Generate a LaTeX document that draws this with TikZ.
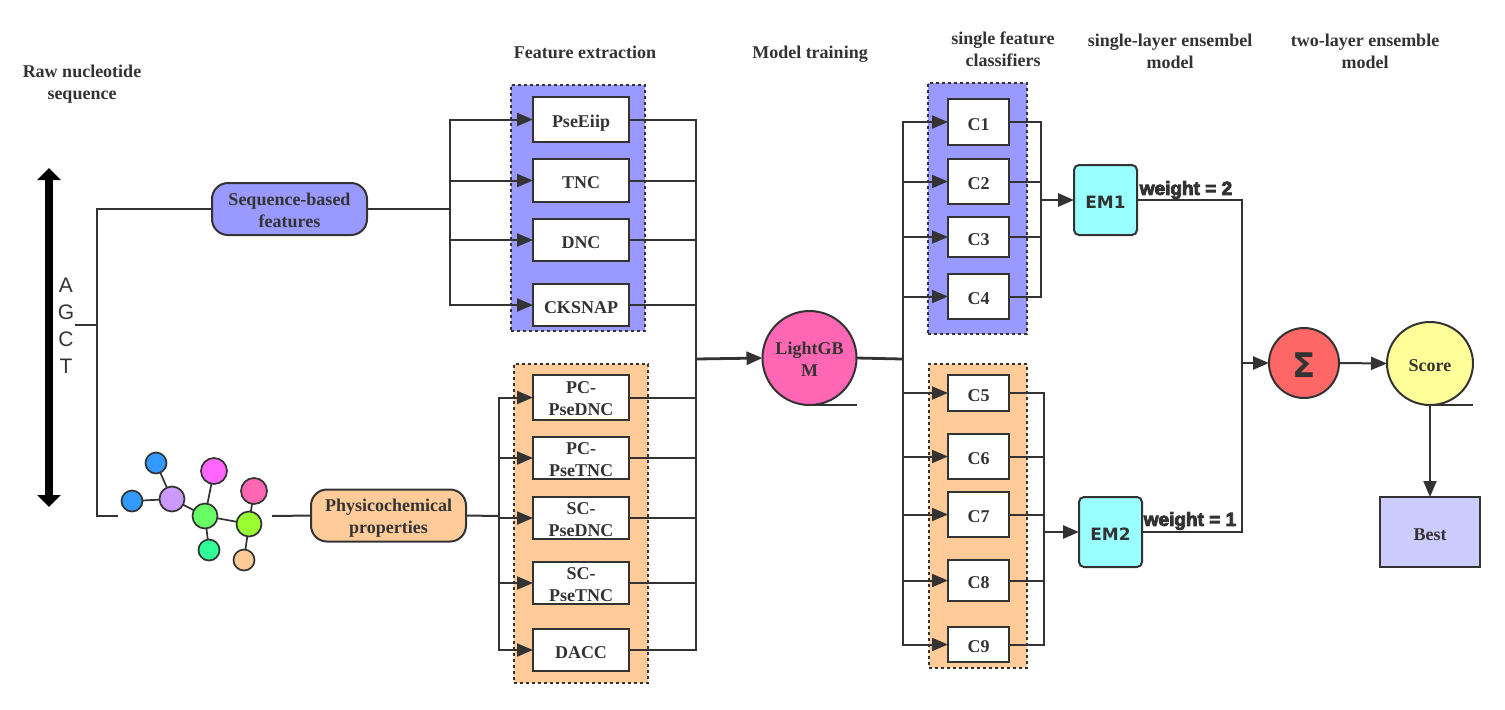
\documentclass[tikz,border=0pt]{standalone}
\usepackage{fontspec}
\setmainfont{Liberation Serif}
\newfontfamily\agctfont{Liberation Sans}
\newfontfamily\emfont{DejaVu Sans}
\newfontfamily\weightfont[BoldFont={Liberation Sans Bold},BoldFeatures={FakeBold=4.5}]{Liberation Sans}
\usetikzlibrary{positioning,arrows.meta,shapes.geometric}
\definecolor{dkline}{RGB}{51,51,51}
\definecolor{plblue}{RGB}{153,153,255}
\definecolor{plorange}{RGB}{255,204,153}
\definecolor{plcyan}{RGB}{153,255,255}
\definecolor{plred}{RGB}{255,102,102}
\definecolor{plyellow}{RGB}{255,255,153}
\definecolor{pllilac}{RGB}{204,204,255}
\definecolor{plpink}{RGB}{255,102,179}
\definecolor{atblue}{RGB}{51,153,255}
\definecolor{atviolet}{RGB}{204,153,255}
\definecolor{atmagenta}{RGB}{255,102,255}
\definecolor{atgreen}{RGB}{102,255,102}
\definecolor{atteal}{RGB}{51,255,153}
\definecolor{atlime}{RGB}{153,255,51}
\tikzset{
  base/.style={inner sep=0pt, outer sep=0pt, text=dkline, align=center,
    font=\bfseries\fontsize{9}{11}\selectfont},
  oneline/.style={text height=8.3pt, text depth=0pt},
  twoline/.style={text height=18pt, text depth=0pt},
  line/.style={draw=dkline, line width=1pt},
  flow/.style={line, -{Triangle[length=8pt,width=6.5pt]}},
  panel/.style={base, draw=dkline, line width=1pt, dash pattern=on 1.5pt off 1.5pt},
  whitebox/.style={base, draw=dkline, line width=1pt, fill=white},
  pill/.style={base, twoline, draw=dkline, line width=1pt, rounded corners=8pt,
    minimum width=77.5pt, minimum height=26pt},
  embox/.style={base, oneline, draw=dkline, line width=1pt, fill=plcyan, rounded corners=2.5pt,
    minimum width=31.5pt, minimum height=35pt, font=\emfont\bfseries\fontsize{8.5}{10}\selectfont},
  atom/.style={circle, draw=dkline, line width=0.85pt, inner sep=0pt, outer sep=0pt},
  weightlab/.style={base, font=\weightfont\bfseries\fontsize{9.5}{11}\selectfont}
}
\begin{document}
\begin{tikzpicture}[x=0.5pt, y=-0.5pt]
\useasboundingbox (0,0) rectangle (1505,709);

% Column titles
\node[base] (ttlraw) at (82,84) {Raw nucleotide\\sequence};
\node[base] (ttlfeat) at (585,52) {Feature extraction};
\node[base] (ttlmodel) at (810,54) {Model training};
\node[base] (ttlsingle) at (1003,49) {single feature\\classifiers};
\node[base] (ttllayer) at (1170,51) {single-layer ensembel\\model};
\node[base] (ttltwo) at (1365,51) {two-layer ensemble\\model};

% Sequence arrow
\coordinate (seqtop) at (49,168);
\coordinate (seqbot) at (49,507);
\draw[line width=4pt, black, {Triangle[length=6pt,width=11.5pt]}-{Triangle[length=6pt,width=11.5pt]}] (seqtop) -- (seqbot);
\node[base, font=\agctfont\fontsize{10.5}{13.5}\selectfont] (agct) at (66,326) {A\\G\\C\\T};

% Panels
\node[panel, fill=plblue, minimum width=67pt, minimum height=123pt] (panela) at (578,208) {};
\node[panel, fill=plorange, minimum width=67pt, minimum height=159.5pt] (panelb) at (581,523.5) {};
\node[panel, fill=plblue, minimum width=49.5pt, minimum height=125.5pt] (panelc) at (977.5,208.5) {};
\node[panel, fill=plorange, minimum width=49pt, minimum height=152pt] (paneld) at (978,516) {};

% Feature boxes
\foreach \nm/\yy/\hh/\sty/\lab in {pse/119.5/45/oneline/PseEiip, tnc/180.5/43/oneline/TNC, dnc/240/42/oneline/DNC, cks/305/42/oneline/CKSNAP,
    pcd/397.5/45/twoline/{PC-\\PseDNC}, pct/458/42/twoline/{PC-\\PseTNC}, scd/518/42/twoline/{SC-\\PseDNC},
    sct/583/42/twoline/{SC-\\PseTNC}, dac/650/42/oneline/DACC} {
    \node[whitebox, \sty, minimum width=48pt, minimum height={\hh*0.5pt}] (\nm) at (581,\yy) {\lab};
}

% Classifier boxes
\foreach \nm/\yy/\hh in {1/122/46, 2/181.5/45, 3/237/40, 4/296.5/45, 5/393/36,
    6/456.5/45, 7/514.5/45, 8/580.5/41, 9/644.5/35} {
    \node[whitebox, oneline, minimum width=30.5pt, minimum height={\hh*0.5pt}] (c\nm) at (978.5,\yy) {C\nm};
}

% Molecule
\foreach \nm/\xx/\yy/\rr/\col in {mola/132/501/21/atblue, molb/156/463/21/atblue,
    molc/172/499/25/atviolet, mold/214/471/26/atmagenta, mole/205/516/25/atgreen,
    molf/209/550/21/atteal, molg/249/524/25/atlime, molh/254/491/26/plpink, moli/244/560/21/plorange} {
    \node[atom, fill=\col, minimum size={\rr*0.5pt}] (\nm) at (\xx,\yy) {};
}
\foreach \p/\q in {mola/molc, molb/molc, molc/mole, mold/mole, molf/mole, mole/molg, molh/molg, moli/molg} {
    \draw[line, line width=0.85pt] (\p) -- (\q);
}

% Pills and later stages
\node[pill, fill=plblue] (seqf) at (289.5,209) {Sequence-based\\features};
\node[pill, fill=plorange] (phys) at (388.5,515.5) {Physicochemical\\properties};
\node[base, twoline, circle, draw=dkline, line width=1pt, fill=plpink, minimum size=47pt] (lgbm) at (809.5,358) {LightGB\\M};
\node[embox] (em1) at (1105.5,200) {EM1};
\node[embox] (em2) at (1110.5,532) {EM2};
\node[base, circle, draw=dkline, line width=1pt, fill=plred, minimum size=35pt, text height=14.5pt, text depth=0pt, font=\emfont\bfseries\fontsize{17}{17}\selectfont] (sigma) at (1304,363) {Σ};
\node[base, oneline, ellipse, draw=dkline, line width=1pt, fill=plyellow, minimum width=43pt, minimum height=41.5pt] (score) at (1430,363.5) {Score};
\node[base, oneline, draw=dkline, line width=1pt, fill=pllilac, minimum width=50pt, minimum height=35pt] (best) at (1430,532) {Best};
\node[weightlab] (wtwo) at (1186,190) {weight = 2};
\node[weightlab] (wone) at (1190,521) {weight = 1};

% Input branch
\coordinate (agctbus) at (96.5,325);
\coordinate (molin) at (118,516);
\coordinate (molout) at (272,516);
\coordinate (agctout) at (75,325);
\draw[line] (agctout) -- (agctbus);
\draw[line] (seqf.west) -| (agctbus) |- (molin);
\draw[line] (molout) -- (phys.west);

% Feature branches
\coordinate (busa) at (450,209);
\coordinate (busb) at (499,516);
\coordinate (lgbin) at (696,359);
\draw[line] (seqf.east) -- (busa);
\draw[line] (phys.east) -- (busb);
\foreach \b in {pse,tnc,dnc,cks} {
    \draw[flow] (busa) |- (\b.west);
}
\foreach \b in {pcd,pct,scd,sct,dac} {
    \draw[flow] (busb) |- (\b.west);
}
\foreach \b in {pse,tnc,dnc,cks,pcd,pct,scd,sct,dac} {
    \draw[line] (\b.east) -| (lgbin);
}
\draw[flow, line width=1.4pt] (lgbin) -- (lgbm.west);
\draw[line] (lgbm.south) -- (lgbm.south -| lgbm.east);

% Classifier branches
\coordinate (lgbout) at (902.5,359);
\coordinate (emain) at (1041,200);
\coordinate (embin) at (1044,532);
\draw[line, line width=1.4pt] (lgbm.east) -- (lgbout);
\foreach \i in {1,...,9} {
    \draw[flow] (lgbout) |- (c\i.west);
}
\foreach \i in {1,...,4} {
    \draw[line] (c\i.east) -| (emain);
}
\foreach \i in {5,...,9} {
    \draw[line] (c\i.east) -| (embin);
}
\draw[flow, line width=1.4pt] (emain) -- (em1.west);
\draw[flow, line width=1.4pt] (embin) -- (em2.west);

% Ensemble
\coordinate (sumin) at (1242,363);
\draw[line] (em1.east) -| (sumin);
\draw[line] (em2.east) -| (sumin);
\draw[flow, line width=1.4pt] (sumin) -- (sigma.west);
\draw[flow] (sigma.east) -- (score.west);
\draw[flow] (score.south) -- (best.north);
\draw[line] (score.south) -- (score.south -| score.east);
\end{tikzpicture}
\end{document}
